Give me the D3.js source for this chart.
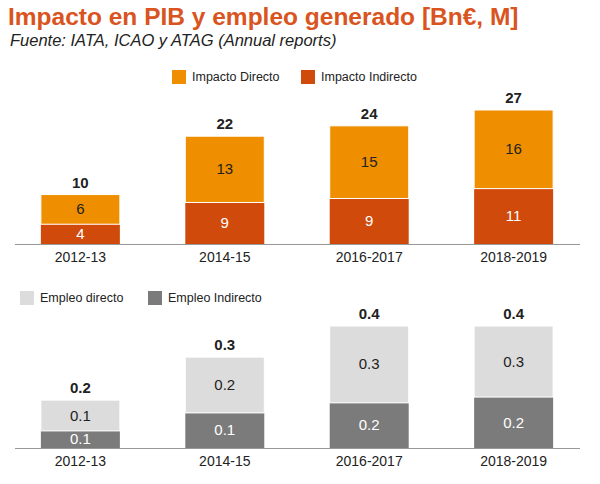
<!DOCTYPE html>
<html><head><meta charset="utf-8">
<script src="https://cdn.jsdelivr.net/npm/d3@7"></script>
<style>body{margin:0;background:#fff;font-family:Arial,"Liberation Sans",sans-serif}</style>
</head><body><div id="chart"></div>
<script>
const periods = ["2012-13", "2014-15", "2016-2017", "2018-2019"];
// top: Bn€
const pibIndirecto = [4, 8.4, 9.2, 11.2];
const pibDirecto = [6, 13.4, 14.7, 15.9];
const pibIndLabels = ["4", "9", "9", "11"];
const pibDirLabels = ["6", "13", "15", "16"];
const pibTotLabels = ["10", "22", "24", "27"];
// bottom: M empleos
const empIndirecto = [0.056, 0.115, 0.148, 0.167];
const empDirecto = [0.101, 0.183, 0.252, 0.233];
const empIndLabels = ["0.1", "0.1", "0.2", "0.2"];
const empDirLabels = ["0.1", "0.2", "0.3", "0.3"];
const empTotLabels = ["0.2", "0.3", "0.4", "0.4"];

const width = 600, height = 484;
const svg = d3.select("#chart").append("svg").attr("width", width).attr("height", height);

svg.append("text").attr("x", 8).attr("y", 25).attr("fill", "#d9541e")
    .attr("font-size", 24.5).attr("font-weight", "bold")
    .text("Impacto en PIB y empleo generado [Bn€, M]");
svg.append("text").attr("x", 10).attr("y", 46).attr("font-size", 16.5)
    .attr("font-style", "italic").attr("fill", "#222")
    .text("Fuente: IATA, ICAO y ATAG (Annual reports)");

const x = d3.scaleBand().domain(periods).range([12, 582]).paddingInner(0.453).paddingOuter(0.2);

function panel(opts) {
    const y = d3.scaleLinear().domain([0, opts.max]).range([opts.base, opts.top]);
    const g = svg.append("g");
    // legend
    opts.legend.forEach((l, i) => {
        g.append("rect").attr("x", l.x).attr("y", opts.legendY - 7).attr("width", 14).attr("height", 14).attr("fill", l.color);
        g.append("text").attr("x", l.x + 20).attr("y", opts.legendY + 4).attr("font-size", 12.5).attr("fill", "#222").text(l.name);
    });
    periods.forEach((p, i) => {
        const a = opts.ind[i], b = opts.dir[i];
        g.append("rect").attr("x", x(p)).attr("width", x.bandwidth())
            .attr("y", y(a)).attr("height", y(0) - y(a)).attr("fill", opts.c1);
        g.append("rect").attr("x", x(p)).attr("width", x.bandwidth())
            .attr("y", y(a + b)).attr("height", y(a) - y(a + b)).attr("fill", opts.c2)
            .attr("stroke", "#fff").attr("stroke-width", 1);
        const cx = x(p) + x.bandwidth() / 2;
        g.append("text").attr("x", cx).attr("y", (y(0) + y(a)) / 2 + 5).attr("text-anchor", "middle")
            .attr("font-size", 15).attr("fill", "#fff").text(opts.indL[i]);
        g.append("text").attr("x", cx).attr("y", (y(a) + y(a + b)) / 2 + 5).attr("text-anchor", "middle")
            .attr("font-size", 15).attr("fill", opts.dirColor).text(opts.dirL[i]);
        g.append("text").attr("x", cx).attr("y", y(a + b) - 7).attr("text-anchor", "middle")
            .attr("font-size", 15).attr("font-weight", "bold").attr("fill", "#222").text(opts.totL[i]);
    });
    const ax = g.append("g").attr("transform", `translate(0,${opts.base})`)
        .call(d3.axisBottom(x).tickSize(0).tickPadding(8));
    ax.select(".domain").attr("stroke", "#999").attr("d", "M15,0.5H580");
    ax.selectAll("text").attr("font-size", 14).attr("fill", "#222").attr("font-family", "Arial,'Liberation Sans',sans-serif");
}

panel({
    base: 244, top: 110, max: 27.1, legendY: 77,
    ind: pibIndirecto, dir: pibDirecto, indL: pibIndLabels, dirL: pibDirLabels, totL: pibTotLabels,
    c1: "#d04a0b", c2: "#ef8f00", dirColor: "#222",
    legend: [{x: 172, name: "Impacto Directo", color: "#ef8f00"}, {x: 301, name: "Impacto Indirecto", color: "#d04a0b"}]
});
panel({
    base: 448, top: 326, max: 0.4, legendY: 298,
    ind: empIndirecto, dir: empDirecto, indL: empIndLabels, dirL: empDirLabels, totL: empTotLabels,
    c1: "#7b7b7b", c2: "#dcdcdc", dirColor: "#222",
    legend: [{x: 20, name: "Empleo directo", color: "#dcdcdc"}, {x: 148, name: "Empleo Indirecto", color: "#7b7b7b"}]
});
</script></body></html>
